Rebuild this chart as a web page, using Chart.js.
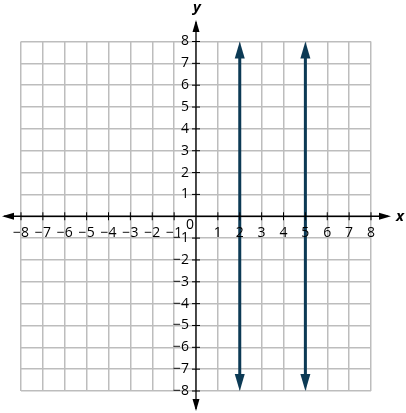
<!DOCTYPE html>
<html lang="en">
<head>
<meta charset="utf-8">
<title>x = 2 and x = 5</title>
<script src="https://cdn.jsdelivr.net/npm/chart.js"></script>
<style>
  html, body { margin: 0; padding: 0; background: #fff; }
  #wrap { width: 406px; height: 413px; }
</style>
</head>
<body>
<div id="wrap"><canvas id="myChart"></canvas></div>
<script>
// axis range and tick labels
const xTicks = [-8, -7, -6, -5, -4, -3, -2, -1, 1, 2, 3, 4, 5, 6, 7, 8];
const yTicks = [-8, -7, -6, -5, -4, -3, -2, -1, 1, 2, 3, 4, 5, 6, 7, 8];
// vertical lines x = 2 and x = 5, drawn from y = -8 to y = 8
const lineXs = [2, 5];
const lineYs = [-8, 8];

const lineColor = '#0c3a55';
const fontFam = '"Open Sans", "Noto Sans", sans-serif';

function fmt(v) {
    return v < 0 ? '\u2212' + Math.abs(v) : String(v);
}

function arrow(ctx, x, y, dx, dy, len, half) {
    // tip at (x,y), pointing in direction (dx,dy)
    ctx.beginPath();
    ctx.moveTo(x, y);
    ctx.lineTo(x - dx * len - dy * half, y - dy * len + dx * half);
    ctx.lineTo(x - dx * len + dy * half, y - dy * len - dx * half);
    ctx.closePath();
    ctx.fill();
}

// axes through the origin, tick labels, and arrow heads
const axesPlugin = {
    id: 'axes',
    afterDatasetsDraw(chart) {
        const ctx = chart.ctx;
        const xs = chart.scales.x, ys = chart.scales.y;
        const ox = xs.getPixelForValue(0), oy = ys.getPixelForValue(0);
        ctx.save();
        ctx.strokeStyle = '#000';
        ctx.fillStyle = '#000';
        ctx.lineWidth = 1.3;
        // x axis
        ctx.beginPath();
        ctx.moveTo(4, oy);
        ctx.lineTo(388, oy);
        ctx.stroke();
        arrow(ctx, 2, oy, -1, 0, 12, 3.5);
        arrow(ctx, 391, oy, 1, 0, 12, 3.5);
        // y axis
        ctx.beginPath();
        ctx.moveTo(ox, 22);
        ctx.lineTo(ox, 409);
        ctx.stroke();
        arrow(ctx, ox, 20, 0, -1, 12, 3.5);
        arrow(ctx, ox, 411, 0, 1, 12, 3.5);

        // tick marks
        ctx.lineWidth = 1;
        xTicks.forEach(v => {
            const px = xs.getPixelForValue(v);
            ctx.beginPath();
            ctx.moveTo(px, oy - 4);
            ctx.lineTo(px, oy + 4);
            ctx.stroke();
        });
        yTicks.forEach(v => {
            const py = ys.getPixelForValue(v);
            ctx.beginPath();
            ctx.moveTo(ox - 4, py);
            ctx.lineTo(ox + 4, py);
            ctx.stroke();
        });

        // tick labels
        ctx.font = '14px ' + fontFam;
        ctx.textBaseline = 'middle';
        ctx.textAlign = 'center';
        xTicks.forEach(v => {
            ctx.fillText(fmt(v), xs.getPixelForValue(v), oy + 17);
        });
        ctx.fillText('0', ox - 6, oy + 9);
        ctx.textAlign = 'right';
        yTicks.forEach(v => {
            ctx.fillText(fmt(v), ox - 7, ys.getPixelForValue(v));
        });

        // axis names
        ctx.font = 'italic bold 15px ' + fontFam;
        ctx.textAlign = 'center';
        ctx.fillText('x', 400, oy);
        ctx.fillText('y', ox + 1, 8);

        // arrow heads on the plotted lines
        ctx.fillStyle = lineColor;
        chart.data.datasets.forEach((ds, i) => {
            const pts = chart.getDatasetMeta(i).data;
            const a = pts[0], b = pts[pts.length - 1];
            arrow(ctx, a.x, a.y, 0, 1, 17, 5);
            arrow(ctx, b.x, b.y, 0, -1, 17, 5);
        });
        ctx.restore();
    }
};

const datasets = lineXs.map(xv => ({
    label: 'x = ' + xv,
    data: lineYs.map(yv => ({ x: xv, y: yv })),
    borderColor: lineColor,
    borderWidth: 3,
    pointRadius: 0,
    showLine: true,
    fill: false
}));

// trim the ends slightly so the arrow tips stay sharp
const trimPlugin = {
    id: 'trim',
    beforeDatasetsDraw(chart) {
        chart.ctx.save();
        const ys = chart.scales.y;
        const top = ys.getPixelForValue(8) + 10, bot = ys.getPixelForValue(-8) - 10;
        chart.ctx.beginPath();
        chart.ctx.rect(0, top, chart.width, bot - top);
        chart.ctx.clip();
    },
    afterDatasetsDraw(chart) {
        chart.ctx.restore();
    }
};

new Chart(document.getElementById('myChart'), {
    type: 'scatter',
    data: { datasets: datasets },
    options: {
        responsive: true,
        maintainAspectRatio: false,
        animation: false,
        layout: { padding: { left: 21, right: 35, top: 41.5, bottom: 22 } },
        plugins: { legend: { display: false }, tooltip: { enabled: false } },
        scales: {
            x: {
                type: 'linear', min: -8, max: 8,
                ticks: { display: false, stepSize: 1 },
                grid: { color: '#bdbdbd', lineWidth: 1.5, drawTicks: false },
                border: { display: false }
            },
            y: {
                type: 'linear', min: -8, max: 8,
                ticks: { display: false, stepSize: 1 },
                grid: { color: '#bdbdbd', lineWidth: 1.5, drawTicks: false },
                border: { display: false }
            }
        }
    },
    plugins: [trimPlugin, axesPlugin]
});
</script>
</body>
</html>
